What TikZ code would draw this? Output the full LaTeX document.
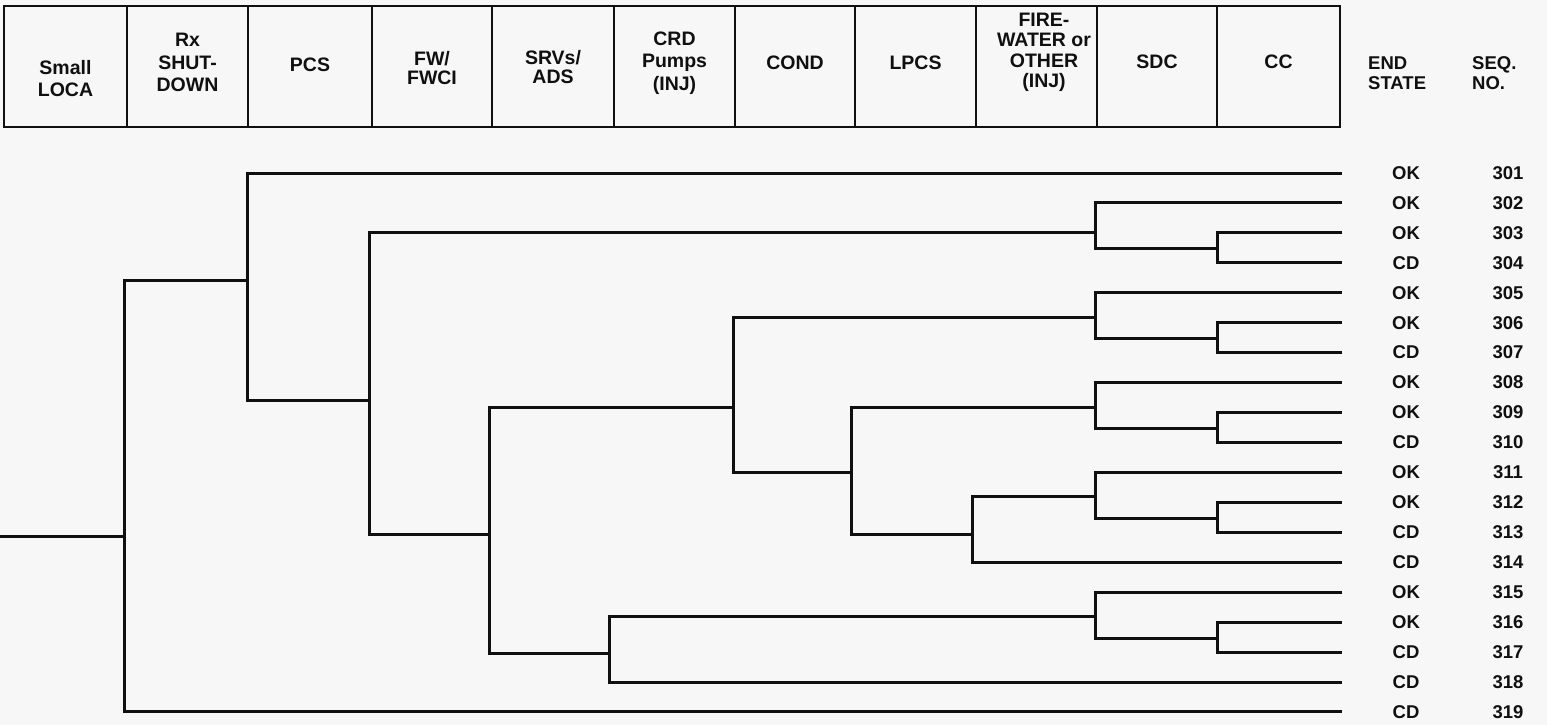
\documentclass[tikz,border=0pt]{standalone}
\usepackage{fontspec}
\setmainfont{Liberation Sans}
\definecolor{bg}{HTML}{F7F7F7}
\definecolor{ink}{HTML}{101010}
\begin{document}
\begin{tikzpicture}[x=1pt,y=-1pt,
  tree/.style={draw=ink,line width=3pt,line cap=rect,line join=miter},
  hbox/.style={draw=ink,line width=2.5pt},
  hdr/.style={text=ink,font=\fontsize{19.5}{22.5}\selectfont\bfseries,align=center,inner sep=0pt},
  endtxt/.style={text=ink,font=\fontsize{18.5}{20}\selectfont\bfseries,inner sep=0pt}]
\fill[bg] (0,0) rectangle (1547,725);
\useasboundingbox (0,0) rectangle (1547,725);

% header table
\draw[hbox] (4,6) rectangle (1340,127);
\foreach \x in {127,248,372,492,614,735,855,976,1097,1217}
  \draw[hbox] (\x,6) -- (\x,127);

\node[hdr] (h1) at (65.5,78.5) {Small\\LOCA};
\node[hdr] (h2) at (187.5,62.5) {Rx\\SHUT-\\DOWN};
\node[hdr] (h3) at (310,65) {PCS};
\node[hdr,font=\fontsize{19.5}{19}\selectfont\bfseries] (h4) at (432,68) {FW/\\FWCI};
\node[hdr,font=\fontsize{19.5}{19}\selectfont\bfseries] (h5) at (553,67.5) {SRVs/\\ADS};
\node[hdr] (h6) at (674.5,63) {CRD\\Pumps\\(INJ)};
\node[hdr] (h7) at (795,63) {COND};
\node[hdr] (h8) at (915.5,63) {LPCS};
\node[hdr,font=\fontsize{19.5}{20.5}\selectfont\bfseries] (h9) at (1044,52.5) {FIRE-\\WATER or\\OTHER\\(INJ)};
\node[hdr] (h10) at (1157,62) {SDC};
\node[hdr] (h11) at (1278.5,62) {CC};
\node[hdr,align=left,anchor=west,font=\fontsize{18.5}{20}\selectfont\bfseries] (h12) at (1368,73) {END\\STATE};
\node[hdr,align=left,anchor=west,font=\fontsize{18.5}{20}\selectfont\bfseries] (h13) at (1472,73) {SEQ.\\NO.};

% end states and sequence numbers
\foreach \i/\st/\yy in {1/OK/173,2/OK/202.9,3/OK/232.9,4/CD/262.8,5/OK/292.8,
   6/OK/322.7,7/CD/352.6,8/OK/382.6,9/OK/412.5,10/CD/442.5,11/OK/472.4,
   12/OK/502.3,13/CD/532.3,14/CD/562.2,15/OK/592.2,16/OK/622.1,17/CD/652,
   18/CD/682,19/CD/711.9} {
  \pgfmathtruncatemacro\seq{300+\i}
  \coordinate (t\i) at (1340,\yy);
  \node[endtxt] (s\i) at (1406,\yy) {\st};
  \node[endtxt] (q\i) at (1508,\yy) {\seq};
}

% branch points: name / x / top / bottom / input
\foreach \n/\x/\t/\b/\j in {
   B1/124/280/711.9/536, B2/247/173/400/280, B3/369/232.9/534/400,
   B4/489/407/653/534, B5/609/616/682/653, B6/733/317/472.4/407,
   B7/851/407/534/472.4, B8/972/496/562.2/534,
   G1/1095/202.9/248/232.9, C1/1217/232.9/262.8/248,
   G2/1095/292.8/338/317, C2/1217/322.7/352.6/338,
   G3/1095/382.6/428/407, C3/1217/412.5/442.5/428,
   G4/1095/472.4/518/496, C4/1217/502.3/532.3/518,
   G5/1095/592.2/638/616, C5/1217/622.1/652/638} {
  \coordinate (\n-t) at (\x,\t);
  \coordinate (\n-b) at (\x,\b);
  \coordinate (\n-i) at (\x,\j);
  \draw[tree] (\n-t) -- (\n-b);
}
\coordinate (I0) at (0,536);

\draw[tree] (I0) -- (B1-i);
\draw[tree] (B1-t) -- (B2-i);
\draw[tree] (B1-b) -- (t19);
\draw[tree] (B2-t) -- (t1);
\draw[tree] (B2-b) -- (B3-i);
\draw[tree] (B3-t) -- (G1-i);
\draw[tree] (B3-b) -- (B4-i);
\draw[tree] (B4-t) -- (B6-i);
\draw[tree] (B4-b) -- (B5-i);
\draw[tree] (B5-t) -- (G5-i);
\draw[tree] (B5-b) -- (t18);
\draw[tree] (B6-t) -- (G2-i);
\draw[tree] (B6-b) -- (B7-i);
\draw[tree] (B7-t) -- (G3-i);
\draw[tree] (B7-b) -- (B8-i);
\draw[tree] (B8-t) -- (G4-i);
\draw[tree] (B8-b) -- (t14);

\draw[tree] (G1-t) -- (t2);  \draw[tree] (G1-b) -- (C1-i);
\draw[tree] (C1-t) -- (t3);  \draw[tree] (C1-b) -- (t4);
\draw[tree] (G2-t) -- (t5);  \draw[tree] (G2-b) -- (C2-i);
\draw[tree] (C2-t) -- (t6);  \draw[tree] (C2-b) -- (t7);
\draw[tree] (G3-t) -- (t8);  \draw[tree] (G3-b) -- (C3-i);
\draw[tree] (C3-t) -- (t9);  \draw[tree] (C3-b) -- (t10);
\draw[tree] (G4-t) -- (t11); \draw[tree] (G4-b) -- (C4-i);
\draw[tree] (C4-t) -- (t12); \draw[tree] (C4-b) -- (t13);
\draw[tree] (G5-t) -- (t15); \draw[tree] (G5-b) -- (C5-i);
\draw[tree] (C5-t) -- (t16); \draw[tree] (C5-b) -- (t17);
\end{tikzpicture}
\end{document}
